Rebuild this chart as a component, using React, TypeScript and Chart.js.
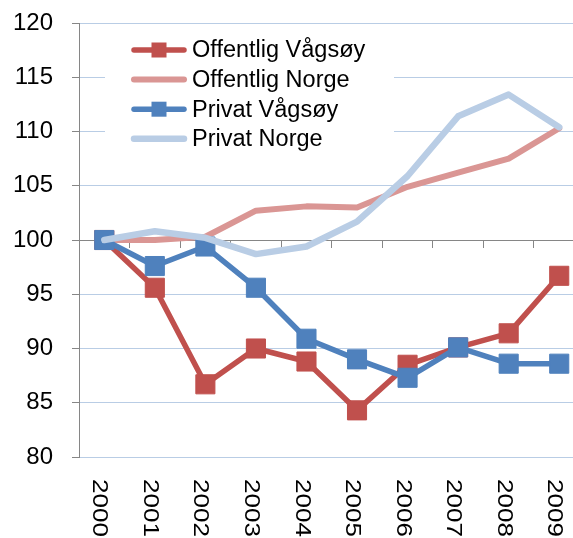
import { useEffect, useRef } from 'react';
import { Chart, registerables } from 'chart.js';

Chart.register(...registerables);

const years = ['2000', '2001', '2002', '2003', '2004', '2005', '2006', '2007', '2008', '2009'];
const offentligVagsoy = [100, 95.6, 86.7, 90.0, 88.8, 84.3, 88.5, 90.1, 91.4, 96.7];
const offentligNorge = [100, 100.0, 100.3, 102.7, 103.1, 103.0, 104.9, 106.2, 107.5, 110.3];
const privatVagsoy = [100, 97.6, 99.4, 95.6, 90.9, 89.0, 87.3, 90.1, 88.6, 88.6];
const privatNorge = [100, 100.8, 100.2, 98.7, 99.4, 101.7, 105.9, 111.4, 113.4, 110.4];
const yMin = 80;
const yMax = 120;
const yStep = 5;
const axisCross = 100;

const FONT = '"Liberation Sans", Arial, sans-serif';
const RED = '#C0504D';
const PINK = '#DA9694';
const BLUE = '#4F81BD';
const LIGHTBLUE = '#B9CDE5';
const GRID = '#B9CDE5';
const AXIS = '#868686';

const legendPlugin = {
  id: 'customLegend',
  beforeDatasetsDraw(chart: any) {
    const ctx = chart.ctx;
    ctx.save();
    ctx.fillStyle = '#ffffff';
    ctx.fillRect(105, 32, 289, 130);
    const rowStart = 50;
    const rowStep = 29.6;
    chart.data.datasets.forEach((ds: any, i: number) => {
      const y = rowStart + i * rowStep;
      ctx.strokeStyle = ds.borderColor;
      ctx.lineWidth = ds.borderWidth;
      ctx.lineCap = 'round';
      ctx.beginPath();
      ctx.moveTo(134, y);
      ctx.lineTo(184, y);
      ctx.stroke();
      if (ds.pointRadius > 0) {
        ctx.fillStyle = ds.pointBackgroundColor;
        ctx.fillRect(151.5, y - 7.5, 15, 15);
      }
      ctx.fillStyle = '#000000';
      ctx.font = `23.5px ${FONT}`;
      ctx.textAlign = 'left';
      ctx.textBaseline = 'middle';
      ctx.fillText(ds.label, 192, y + 1);
    });
    ctx.restore();
  },
};

const xLabelPlugin = {
  id: 'xLabels',
  afterDraw(chart: any) {
    const ctx = chart.ctx;
    const xScale = chart.scales.x;
    ctx.save();
    ctx.fillStyle = '#000000';
    ctx.font = `26px ${FONT}`;
    ctx.textAlign = 'left';
    ctx.textBaseline = 'middle';
    years.forEach((label, i) => {
      const x = xScale.getPixelForValue(i) - 5;
      ctx.save();
      ctx.translate(x, 479);
      ctx.rotate(Math.PI / 2);
      ctx.scale(1, 0.82);
      ctx.fillText(label, 0, 0);
      ctx.restore();
    });
    ctx.restore();
  },
};

export default function App() {
  const canvasRef = useRef<HTMLCanvasElement | null>(null);

  useEffect(() => {
    if (!canvasRef.current) return;
    const chart = new Chart(canvasRef.current, {
      type: 'line',
      data: {
        labels: years,
        datasets: [
          {
            label: 'Offentlig Vågsøy',
            data: offentligVagsoy,
            borderColor: RED,
            backgroundColor: RED,
            borderWidth: 5.5,
            pointStyle: 'rect',
            pointRadius: 13.5,
            pointBackgroundColor: RED,
            pointBorderColor: RED,
            pointBorderWidth: 1,
            borderJoinStyle: 'round',
            borderCapStyle: 'round',
            order: 4,
          },
          {
            label: 'Offentlig Norge',
            data: offentligNorge,
            borderColor: PINK,
            backgroundColor: PINK,
            borderWidth: 6,
            pointRadius: 0,
            pointBackgroundColor: PINK,
            borderJoinStyle: 'round',
            borderCapStyle: 'round',
            order: 3,
          },
          {
            label: 'Privat Vågsøy',
            data: privatVagsoy,
            borderColor: BLUE,
            backgroundColor: BLUE,
            borderWidth: 5.5,
            pointStyle: 'rect',
            pointRadius: 13.5,
            pointBackgroundColor: BLUE,
            pointBorderColor: BLUE,
            pointBorderWidth: 1,
            borderJoinStyle: 'round',
            borderCapStyle: 'round',
            order: 2,
          },
          {
            label: 'Privat Norge',
            data: privatNorge,
            borderColor: LIGHTBLUE,
            backgroundColor: LIGHTBLUE,
            borderWidth: 6.5,
            pointRadius: 0,
            pointBackgroundColor: LIGHTBLUE,
            borderJoinStyle: 'round',
            borderCapStyle: 'round',
            order: 1,
          },
        ] as any,
      },
      options: {
        animation: false,
        responsive: false,
        maintainAspectRatio: false,
        layout: { padding: { left: 13, top: 23, right: 0, bottom: 81 } },
        plugins: {
          legend: { display: false },
          tooltip: { enabled: false },
        },
        elements: { line: { tension: 0 } },
        scales: {
          x: {
            type: 'category',
            position: { y: axisCross } as any,
            offset: true,
            afterFit: (scale: any) => {
              scale.paddingLeft = 0;
              scale.paddingRight = 0;
              scale.paddingTop = 0;
              scale.paddingBottom = 0;
            },
            grid: {
              offset: true,
              drawOnChartArea: false,
              drawTicks: true,
              tickLength: 7,
              tickColor: AXIS,
              color: AXIS,
            },
            border: { display: true, color: AXIS, width: 1 },
            ticks: { display: false },
          },
          y: {
            min: yMin,
            max: yMax,
            afterFit: (scale: any) => {
              scale.width = 66;
              scale.paddingTop = 0;
              scale.paddingBottom = 0;
              scale.paddingLeft = 0;
              scale.paddingRight = 0;
            },
            ticks: {
              stepSize: yStep,
              color: '#000000',
              font: { family: FONT, size: 24 },
              padding: 19,
            },
            grid: {
              color: (c: any) => (c.tick && c.tick.value === axisCross ? AXIS : GRID),
              tickColor: AXIS,
              tickLength: 7,
              lineWidth: 1,
            },
            border: { display: true, color: AXIS, width: 1 },
          },
        },
      },
      plugins: [legendPlugin, xLabelPlugin],
    });
    return () => chart.destroy();
  }, []);

  return (
    <div
      style={{
        position: 'fixed',
        left: 0,
        top: 0,
        width: 573,
        height: 538,
        overflow: 'hidden',
        background: '#ffffff',
      }}
    >
      <canvas ref={canvasRef} width={599} height={538} style={{ display: 'block' }} />
    </div>
  );
}
